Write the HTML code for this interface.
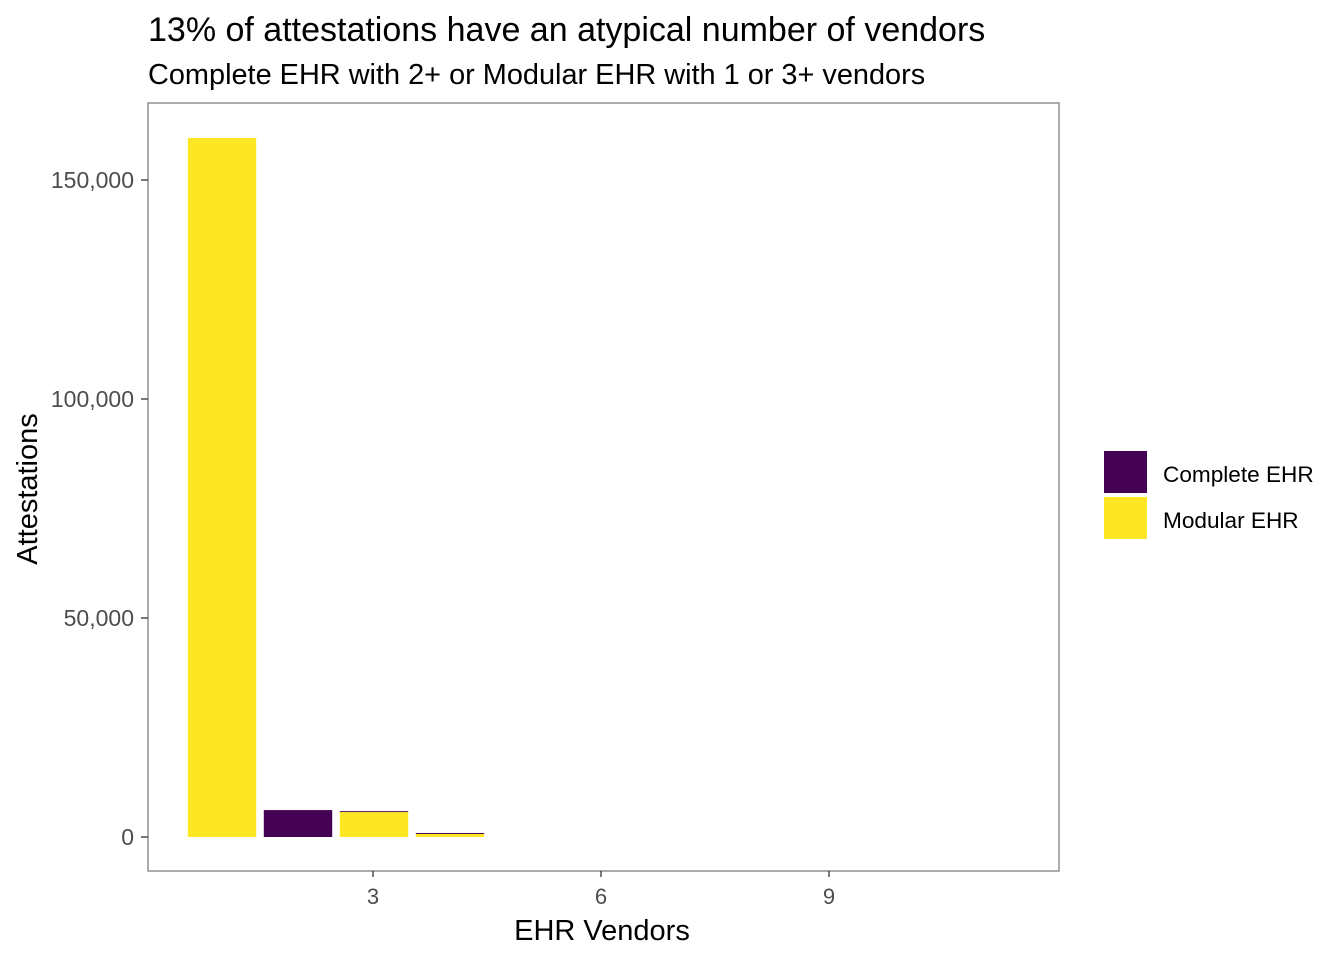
<!DOCTYPE html>
<html><head><meta charset="utf-8"><style>
body{margin:0;background:#fff;}
svg text{font-family:"Liberation Sans",Arial,sans-serif;}
</style></head><body>
<svg width="1344" height="960" xmlns="http://www.w3.org/2000/svg">
<text x="148" y="41" font-size="34" fill="#000">13% of attestations have an atypical number of vendors</text>
<text x="148" y="84" font-size="28.9" fill="#000">Complete EHR with 2+ or Modular EHR with 1 or 3+ vendors</text>
<g id="grid"></g>
<g id="bars"></g>
<rect x="148" y="103" width="911" height="768" fill="none" stroke="#7f7f7f" stroke-width="1.3"/>
<g id="axes"></g>
<text x="602" y="940" font-size="29" text-anchor="middle" fill="#000">EHR Vendors</text>
<text transform="translate(37,489) rotate(-90)" font-size="29" text-anchor="middle" fill="#000">Attestations</text>
<g>
<rect x="1104" y="451" width="43" height="42" fill="#440154"/>
<rect x="1104" y="497" width="43" height="42" fill="#FDE725"/>
<text x="1163" y="482" font-size="22.6" fill="#000">Complete EHR</text>
<text x="1163" y="528" font-size="22.6" fill="#000">Modular EHR</text>
</g>
</svg>
<script>
const vendors=[1,2,3,4];
const completeVals=[0,6150,200,220];
const modularVals=[159600,0,5700,700];
const xTicks=[3,6,9];
const yTicks=[0,50000,100000,150000];
const yTickLabels=["0","50,000","100,000","150,000"];
const NS="http://www.w3.org/2000/svg";
const xs=v=>374+(v-3)*76;
const ys=v=>837-v*657/150000;
function mk(t,a,p){const e=document.createElementNS(NS,t);for(const k in a)e.setAttribute(k,a[k]);p.appendChild(e);return e;}
const grid=document.getElementById('grid'),bars=document.getElementById('bars'),axes=document.getElementById('axes');
vendors.forEach((v,i)=>{
  const w=0.9*76,x=xs(v)-w/2;
  const m=modularVals[i],c=completeVals[i];
  if(m>0){const r=mk('rect',{x:x,y:ys(m),width:w,height:ys(0)-ys(m),fill:'#FDE725'},bars);
  
  }
  if(c>0){const r=mk('rect',{x:x,y:ys(m+c),width:w,height:ys(m)-ys(m+c),fill:'#440154'},bars);
  
  }
});
xTicks.forEach(t=>{
  mk('line',{x1:xs(t)-1,x2:xs(t)-1,y1:871,y2:877,stroke:'#333','stroke-width':1.3},axes);
  const tx=mk('text',{x:xs(t)-1,y:904,'font-size':22,'text-anchor':'middle',fill:'#4d4d4d'},axes);
  tx.textContent=t;
  
  
});
yTicks.forEach((t,i)=>{
  mk('line',{x1:141,x2:148,y1:ys(t),y2:ys(t),stroke:'#333','stroke-width':1.3},axes);
  const tx=mk('text',{x:134,y:ys(t)+8,'font-size':23,'text-anchor':'end',fill:'#4d4d4d'},axes);
  tx.textContent=yTickLabels[i];
  
  
});
</script>
</body></html>
